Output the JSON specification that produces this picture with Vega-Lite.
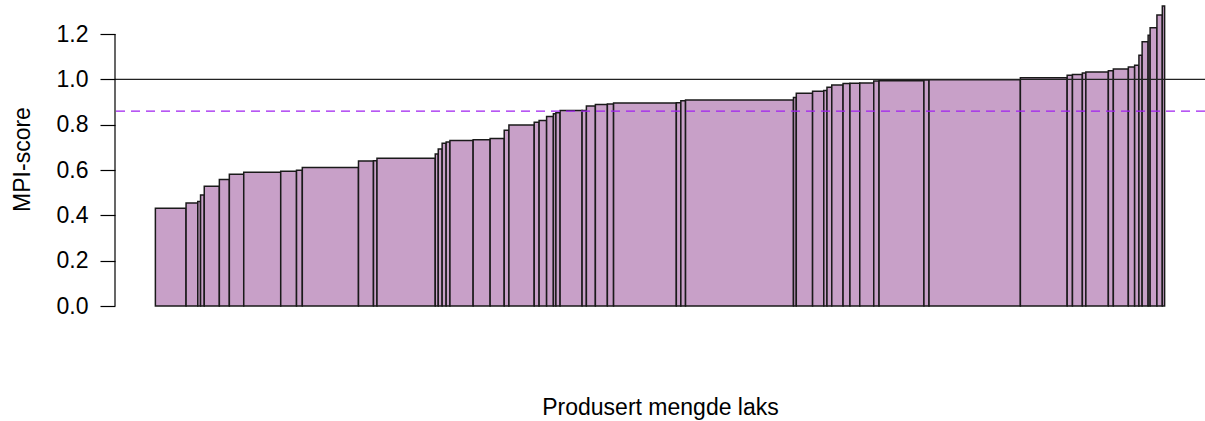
{
  "$schema": "https://vega.github.io/schema/vega-lite/v6.json",
  "width": 1090,
  "height": 318,
  "autosize": {"type": "none"},
  "padding": {"left": 115, "top": 0, "right": 0, "bottom": 103},
  "background": "white",
  "config": {
    "view": {"stroke": null},
    "font": "Liberation Sans"
  },
  "datasets": {
    "bars": [
      {"fra": 0, "til": 30.7, "mpi": 0.431},
      {"fra": 30.7, "til": 42.4, "mpi": 0.454},
      {"fra": 42.4, "til": 45.2, "mpi": 0.461},
      {"fra": 45.2, "til": 48.9, "mpi": 0.49},
      {"fra": 48.9, "til": 64.0, "mpi": 0.528},
      {"fra": 64.0, "til": 74.0, "mpi": 0.558},
      {"fra": 74.0, "til": 88.4, "mpi": 0.581},
      {"fra": 88.4, "til": 125.4, "mpi": 0.59},
      {"fra": 125.4, "til": 141.2, "mpi": 0.595},
      {"fra": 141.2, "til": 147.0, "mpi": 0.599},
      {"fra": 147.0, "til": 203.2, "mpi": 0.611},
      {"fra": 203.2, "til": 218.2, "mpi": 0.64},
      {"fra": 218.2, "til": 221.7, "mpi": 0.641},
      {"fra": 221.7, "til": 280.0, "mpi": 0.652},
      {"fra": 280.0, "til": 283.0, "mpi": 0.671},
      {"fra": 283.0, "til": 286.9, "mpi": 0.693},
      {"fra": 286.9, "til": 290.9, "mpi": 0.718},
      {"fra": 290.9, "til": 294.7, "mpi": 0.723},
      {"fra": 294.7, "til": 317.9, "mpi": 0.73},
      {"fra": 317.9, "til": 334.9, "mpi": 0.733},
      {"fra": 334.9, "til": 349.0, "mpi": 0.739},
      {"fra": 349.0, "til": 353.7, "mpi": 0.775},
      {"fra": 353.7, "til": 379.0, "mpi": 0.799},
      {"fra": 379.0, "til": 383.9, "mpi": 0.811},
      {"fra": 383.9, "til": 391.4, "mpi": 0.818},
      {"fra": 391.4, "til": 398.2, "mpi": 0.836},
      {"fra": 398.2, "til": 400.7, "mpi": 0.848},
      {"fra": 400.7, "til": 404.9, "mpi": 0.853},
      {"fra": 404.9, "til": 426.9, "mpi": 0.862},
      {"fra": 426.9, "til": 431.2, "mpi": 0.863},
      {"fra": 431.2, "til": 440.2, "mpi": 0.882},
      {"fra": 440.2, "til": 452.2, "mpi": 0.889},
      {"fra": 452.2, "til": 458.4, "mpi": 0.891},
      {"fra": 458.4, "til": 521.2, "mpi": 0.896},
      {"fra": 521.2, "til": 525.7, "mpi": 0.897},
      {"fra": 525.7, "til": 530.4, "mpi": 0.906},
      {"fra": 530.4, "til": 638.4, "mpi": 0.909},
      {"fra": 638.4, "til": 641.2, "mpi": 0.92},
      {"fra": 641.2, "til": 657.5, "mpi": 0.939},
      {"fra": 657.5, "til": 668.7, "mpi": 0.947},
      {"fra": 668.7, "til": 671.9, "mpi": 0.951},
      {"fra": 671.9, "til": 676.7, "mpi": 0.965},
      {"fra": 676.7, "til": 688.0, "mpi": 0.975},
      {"fra": 688.0, "til": 694.9, "mpi": 0.982},
      {"fra": 694.9, "til": 704.7, "mpi": 0.983},
      {"fra": 704.7, "til": 718.7, "mpi": 0.984},
      {"fra": 718.7, "til": 724.0, "mpi": 0.993},
      {"fra": 724.0, "til": 768.9, "mpi": 0.994},
      {"fra": 768.9, "til": 774.0, "mpi": 0.997},
      {"fra": 774.0, "til": 865.4, "mpi": 0.998},
      {"fra": 865.4, "til": 912.2, "mpi": 1.007},
      {"fra": 912.2, "til": 917.5, "mpi": 1.018},
      {"fra": 917.5, "til": 927.4, "mpi": 1.021},
      {"fra": 927.4, "til": 930.9, "mpi": 1.028},
      {"fra": 930.9, "til": 953.4, "mpi": 1.032},
      {"fra": 953.4, "til": 958.4, "mpi": 1.038},
      {"fra": 958.4, "til": 973.4, "mpi": 1.046},
      {"fra": 973.4, "til": 979.7, "mpi": 1.054},
      {"fra": 979.7, "til": 984.0, "mpi": 1.062},
      {"fra": 984.0, "til": 987.2, "mpi": 1.106},
      {"fra": 987.2, "til": 993.2, "mpi": 1.166},
      {"fra": 993.2, "til": 995.2, "mpi": 1.194},
      {"fra": 995.2, "til": 1002.0, "mpi": 1.228},
      {"fra": 1002.0, "til": 1007.4, "mpi": 1.284},
      {"fra": 1007.4, "til": 1009.7, "mpi": 1.324}
    ],
    "refs": [
      {"nivaa": 1.0, "type": "referanse"}
    ],
    "snitt": [
      {"nivaa": 0.86, "type": "gjennomsnitt"}
    ],
    "akse": [
      {"x": -40.4, "fra": 0, "til": 1.2}
    ]
  },
  "layer": [
    {
      "data": {"name": "bars"},
      "mark": {"type": "rect", "fill": "#C8A0C8", "stroke": "#1a1a1a", "strokeWidth": 1.5},
      "encoding": {
        "x": {
          "field": "fra", "type": "quantitative",
          "scale": {"domain": [-40.4, 1050.1], "nice": false, "zero": false},
          "axis": {
            "title": "Produsert mengde laks",
            "domain": false, "ticks": false, "labels": false, "grid": false,
            "titleFontSize": 23, "titleFontWeight": "normal", "titleColor": "#000",
            "titlePadding": 78
          }
        },
        "x2": {"field": "til"},
        "y": {
          "field": "mpi", "type": "quantitative",
          "scale": {"domain": [-0.0529, 1.35], "nice": false, "zero": false},
          "axis": {
            "title": "MPI-score",
            "values": [0, 0.2, 0.4, 0.6, 0.8, 1.0, 1.2],
            "format": ".1f",
            "domain": false, "grid": false,
            "tickSize": 15, "tickColor": "#000", "tickWidth": 1.2,
            "labelFontSize": 23, "labelColor": "#000", "labelPadding": 12,
            "titleFontSize": 23, "titleFontWeight": "normal", "titleColor": "#000",
            "titlePadding": 22
          }
        },
        "y2": {"datum": 0}
      }
    },
    {
      "data": {"name": "refs"},
      "mark": {"type": "rule", "color": "#222", "strokeWidth": 1.4},
      "encoding": {"y": {"field": "nivaa", "type": "quantitative"}}
    },
    {
      "data": {"name": "snitt"},
      "mark": {"type": "rule", "color": "#A020F0", "strokeWidth": 1.3, "strokeDash": [9, 6]},
      "encoding": {"y": {"field": "nivaa", "type": "quantitative"}}
    },
    {
      "data": {"name": "akse"},
      "mark": {"type": "rule", "color": "#000", "strokeWidth": 1.2},
      "encoding": {
        "x": {"field": "x", "type": "quantitative"},
        "y": {"field": "fra", "type": "quantitative"},
        "y2": {"field": "til"}
      }
    }
  ]
}
